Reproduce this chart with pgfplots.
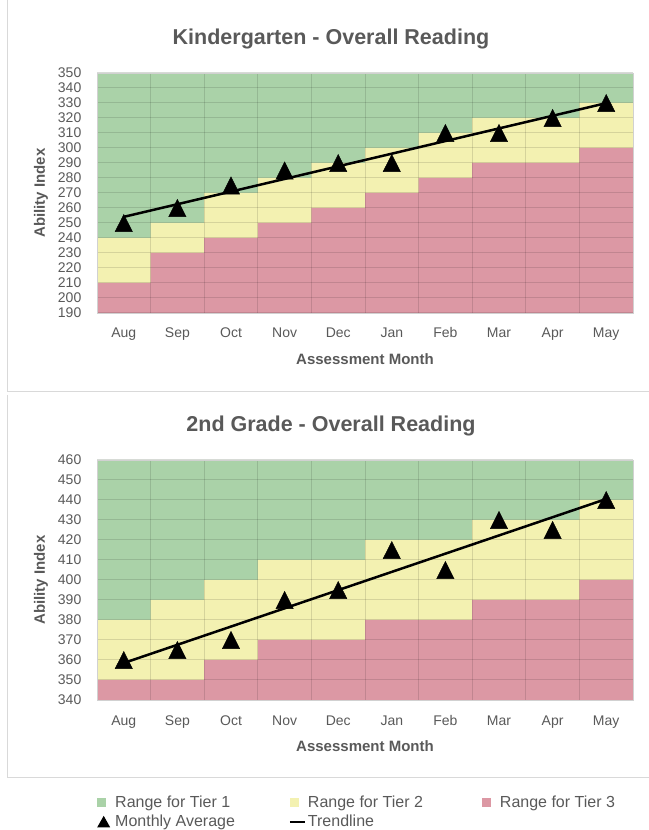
\documentclass[border=0pt]{standalone}
\usepackage{fontspec}
\setmainfont{Liberation Sans}
\usepackage{pgfplots}
\pgfplotsset{compat=1.18}
\definecolor{tgreen}{RGB}{170,210,168}
\definecolor{tyellow}{RGB}{243,241,177}
\definecolor{tred}{RGB}{220,152,164}
\definecolor{txt}{RGB}{89,89,89}
\definecolor{frame}{RGB}{217,217,217}

\pgfplotsset{
 tierstyle/.style={
  width=536bp, height=240bp, scale only axis,
  xmin=-0.5, xmax=9.5,
  xtick={0,...,9}, xticklabels={Aug,Sep,Oct,Nov,Dec,Jan,Feb,Mar,Apr,May},
  minor xtick={-0.5,0.5,...,9.5},
  xminorgrids, ymajorgrids,
  major tick length=0, minor tick length=0,
  grid style={black, opacity=0.12, line width=1bp},
  minor grid style={black, opacity=0.12, line width=1bp},
  axis on top,
  axis line style={black!18, line width=0.8bp},
  /pgf/number format/assume math mode=true,
  ticklabel style={font=\fontsize{14bp}{16bp}\selectfont, text=txt},
  yticklabel style={anchor=east, inner sep=0pt, xshift=-15.5bp},
  xticklabel style={anchor=base, inner sep=0pt, yshift=-25bp},
  xlabel={Assessment Month}, ylabel={Ability Index},
  every axis x label/.style={at={(0.5,0)}, anchor=center, yshift=-46bp, font=\fontsize{15bp}{18bp}\selectfont\bfseries, text=txt},
  every axis y label/.style={at={(0,0.5)}, anchor=center, rotate=90, yshift=56bp, font=\fontsize{15bp}{18bp}\selectfont\bfseries, text=txt},
  title style={font=\fontsize{21.5bp}{25bp}\selectfont\bfseries, text=txt, at={(0.5,1)}, anchor=center, yshift=28bp, xshift=-34bp},
 },
 tier/.style={ybar, bar width=1, bar shift=0pt, draw=none, fill=#1, forget plot},
 avgmarks/.style={only marks, mark=triangle*, mark size=11.5bp, black, mark options={xscale=0.87, yshift=-2.9bp}, forget plot},
 legsq/.style={legend image code/.code={\path[draw=none,fill=none] (0,-6bp) rectangle (16bp,6bp); \fill[#1, draw=none] (0,-4.5bp) rectangle (9bp,4.5bp);}},
 legtri/.style={legend image code/.code={\path[draw=none,fill=none] (0,-6bp) rectangle (16bp,6bp); \fill[black, draw=none] (0,-5.5bp) -- (13bp,-5.5bp) -- (6.5bp,6bp) -- cycle;}},
 legline/.style={legend image code/.code={\path[draw=none,fill=none] (0,-6bp) rectangle (16bp,6bp); \draw[black, line width=1.5bp] (0,0) -- (15bp,0);}},
}

\begin{document}
\begin{tikzpicture}
\path[use as bounding box] (0bp,0bp) rectangle (649bp,830bp);
% panel frames
\draw[frame, line width=1bp] (7.5bp,831bp) -- (7.5bp,438bp) -- (660bp,438bp);
\draw[frame, line width=1bp] (7.5bp,435bp) -- (7.5bp,52bp) -- (660bp,52bp);

% ---------- Kindergarten ----------
\begin{axis}[tierstyle, at={(97bp,517bp)}, anchor=south west,
  ymin=190, ymax=350, ytick={190,200,...,350},
  title={Kindergarten - Overall Reading}]
\addplot[tier=tgreen] coordinates {(0,350) (1,350) (2,350) (3,350) (4,350) (5,350) (6,350) (7,350) (8,350) (9,350)};
\addplot[tier=tyellow] coordinates {(0,240) (1,250) (2,270) (3,280) (4,290) (5,300) (6,310) (7,320) (8,320) (9,330)};
\addplot[tier=tred] coordinates {(0,210) (1,230) (2,240) (3,250) (4,260) (5,270) (6,280) (7,290) (8,290) (9,300)};
\addplot[black, line width=2.5bp, forget plot] coordinates {(0,254.1) (9,329.9)};
\addplot[avgmarks]
  coordinates {(0,250) (1,260) (2,275) (3,285) (4,290) (5,290) (6,310) (7,310) (8,320) (9,330)};
\end{axis}

% ---------- 2nd Grade ----------
\begin{axis}[tierstyle, at={(97bp,130bp)}, anchor=south west,
  ymin=340, ymax=460, ytick={340,350,...,460},
  title={2nd Grade - Overall Reading},
  legend columns=3,
  legend cell align=left,
  legend style={at={(0,0)}, anchor=north west, yshift=-96bp, draw=none, fill=none,
    inner sep=0pt, font=\fontsize{16bp}{19bp}\selectfont, text=txt,
    nodes={inner sep=0pt},
    /tikz/every odd column/.style={column sep=2bp},
    /tikz/row sep=6bp}]
\addplot[tier=tgreen] coordinates {(0,460) (1,460) (2,460) (3,460) (4,460) (5,460) (6,460) (7,460) (8,460) (9,460)};
\addplot[tier=tyellow] coordinates {(0,380) (1,390) (2,400) (3,410) (4,410) (5,420) (6,420) (7,430) (8,430) (9,440)};
\addplot[tier=tred] coordinates {(0,350) (1,350) (2,360) (3,370) (4,370) (5,380) (6,380) (7,390) (8,390) (9,400)};
\addplot[black, line width=2.5bp, forget plot] coordinates {(0,358.5) (9,440.5)};
\addplot[avgmarks]
  coordinates {(0,360) (1,365) (2,370) (3,390) (4,395) (5,415) (6,405) (7,430) (8,425) (9,440)};

\addlegendimage{legsq=tgreen}
\addlegendentry{\makebox[174bp][l]{Range for Tier 1}}
\addlegendimage{legsq=tyellow}
\addlegendentry{\makebox[174bp][l]{Range for Tier 2}}
\addlegendimage{legsq=tred}
\addlegendentry{Range for Tier 3}
\addlegendimage{legtri}
\addlegendentry{Monthly Average}
\addlegendimage{legline}
\addlegendentry{Trendline}
\end{axis}
\end{tikzpicture}
\end{document}
